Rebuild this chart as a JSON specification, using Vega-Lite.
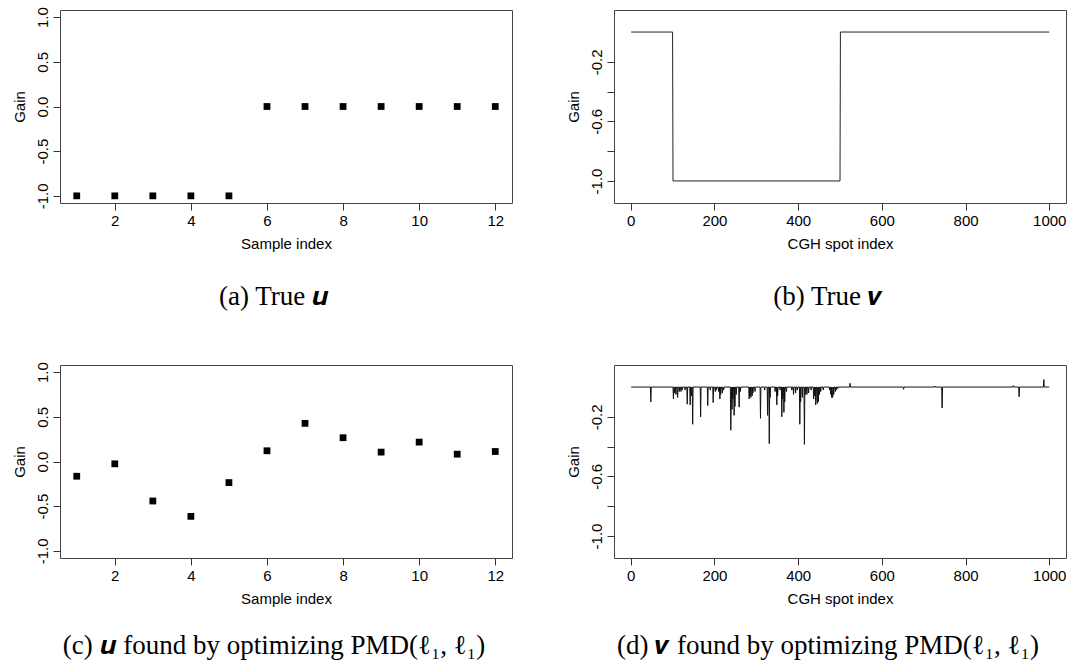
{
  "$schema": "https://vega.github.io/schema/vega-lite/v6.json",
  "padding": {"left": 11, "top": 6, "right": 0, "bottom": 0},
  "background": "white",
  "bounds": "flush",
  "columns": 2,
  "spacing": {"row": 162, "column": 102},
  "datasets": {
    "trueU": [
      {"i": 1, "v": -1}, {"i": 2, "v": -1}, {"i": 3, "v": -1}, {"i": 4, "v": -1}, {"i": 5, "v": -1},
      {"i": 6, "v": 0}, {"i": 7, "v": 0}, {"i": 8, "v": 0}, {"i": 9, "v": 0}, {"i": 10, "v": 0}, {"i": 11, "v": 0}, {"i": 12, "v": 0}
    ],
    "trueV": [
      {"i": 1, "v": 0}, {"i": 100, "v": 0}, {"i": 101, "v": -1}, {"i": 500, "v": -1}, {"i": 501, "v": 0}, {"i": 1000, "v": 0}
    ],
    "estU": [
      {"i": 1, "v": -0.165}, {"i": 2, "v": -0.026}, {"i": 3, "v": -0.442}, {"i": 4, "v": -0.614},
      {"i": 5, "v": -0.236}, {"i": 6, "v": 0.12}, {"i": 7, "v": 0.427}, {"i": 8, "v": 0.266},
      {"i": 9, "v": 0.105}, {"i": 10, "v": 0.217}, {"i": 11, "v": 0.082}, {"i": 12, "v": 0.112}
    ],
    "estV": [
      {"i":1,"v":0},
      {"i":47,"v":0},{"i":48,"v":-0.10},{"i":49,"v":0},
      {"i":101,"v":0},{"i":102,"v":-0.08},{"i":103,"v":0},
      {"i":104,"v":0},{"i":105,"v":-0.04},{"i":106,"v":0},
      {"i":107,"v":0},{"i":108,"v":-0.05},{"i":109,"v":0},
      {"i":111,"v":0},{"i":112,"v":-0.07},{"i":113,"v":0},
      {"i":115,"v":0},{"i":116,"v":-0.03},{"i":117,"v":0},
      {"i":119,"v":0},{"i":120,"v":-0.03},{"i":121,"v":0},
      {"i":122,"v":0},{"i":123,"v":-0.02},{"i":124,"v":0},
      {"i":129,"v":0},{"i":130,"v":-0.02},{"i":131,"v":0},
      {"i":134,"v":0},{"i":135,"v":-0.115},{"i":136,"v":0},
      {"i":141,"v":0},{"i":142,"v":-0.12},{"i":143,"v":0},
      {"i":144,"v":0},{"i":145,"v":-0.06},{"i":146,"v":0},
      {"i":147,"v":0},{"i":148,"v":-0.25},{"i":149,"v":0},
      {"i":166,"v":0},{"i":167,"v":-0.20},{"i":168,"v":0},
      {"i":183,"v":0},{"i":184,"v":-0.125},{"i":185,"v":0},
      {"i":189,"v":0},{"i":190,"v":-0.02},{"i":191,"v":0},
      {"i":196,"v":0},{"i":197,"v":-0.105},{"i":198,"v":0},
      {"i":201,"v":0},{"i":202,"v":-0.03},{"i":203,"v":0},
      {"i":204,"v":0},{"i":205,"v":-0.02},{"i":206,"v":0},
      {"i":209,"v":0},{"i":210,"v":-0.03},{"i":211,"v":0},
      {"i":212,"v":0},{"i":213,"v":-0.08},{"i":214,"v":0},{"i":215,"v":-0.05},{"i":216,"v":0},
      {"i":218,"v":0},{"i":219,"v":-0.04},{"i":220,"v":0},
      {"i":221,"v":0},{"i":222,"v":-0.02},{"i":223,"v":0},
      {"i":238,"v":0},{"i":239,"v":-0.29},{"i":240,"v":-0.12},{"i":241,"v":0},{"i":242,"v":-0.15},{"i":243,"v":0},{"i":244,"v":-0.08},{"i":245,"v":0},
      {"i":246,"v":0},{"i":247,"v":-0.19},{"i":248,"v":0},{"i":249,"v":-0.13},{"i":250,"v":0},
      {"i":251,"v":0},{"i":252,"v":-0.05},{"i":253,"v":0},
      {"i":258,"v":0},{"i":259,"v":-0.135},{"i":260,"v":0},
      {"i":261,"v":0},{"i":262,"v":-0.03},{"i":263,"v":0},
      {"i":282,"v":0},{"i":283,"v":-0.08},{"i":284,"v":0},{"i":285,"v":-0.06},{"i":286,"v":0},{"i":287,"v":-0.07},{"i":288,"v":0},
      {"i":289,"v":0},{"i":290,"v":-0.06},{"i":291,"v":0},{"i":292,"v":-0.04},{"i":293,"v":0},
      {"i":296,"v":0},{"i":297,"v":-0.03},{"i":298,"v":0},
      {"i":309,"v":0},{"i":310,"v":-0.21},{"i":311,"v":0},
      {"i":319,"v":0},{"i":320,"v":-0.02},{"i":321,"v":0},
      {"i":326,"v":0},{"i":327,"v":-0.19},{"i":328,"v":0},
      {"i":330,"v":0},{"i":331,"v":-0.38},{"i":332,"v":0},{"i":333,"v":-0.07},{"i":334,"v":0},
      {"i":344,"v":0},{"i":345,"v":-0.03},{"i":346,"v":0},
      {"i":348,"v":0},{"i":349,"v":-0.12},{"i":350,"v":0},{"i":351,"v":-0.06},{"i":352,"v":0},
      {"i":356,"v":0},{"i":357,"v":-0.02},{"i":358,"v":0},
      {"i":360,"v":0},{"i":361,"v":-0.20},{"i":362,"v":0},{"i":363,"v":-0.08},{"i":364,"v":0},
      {"i":365,"v":0},{"i":366,"v":-0.17},{"i":367,"v":0},{"i":368,"v":-0.10},{"i":369,"v":0},
      {"i":371,"v":0},{"i":372,"v":-0.03},{"i":373,"v":0},
      {"i":384,"v":0},{"i":385,"v":-0.02},{"i":386,"v":0},
      {"i":388,"v":0},{"i":389,"v":-0.05},{"i":390,"v":0},
      {"i":393,"v":0},{"i":394,"v":-0.04},{"i":395,"v":0},
      {"i":397,"v":0},{"i":398,"v":-0.02},{"i":399,"v":0},
      {"i":403,"v":0},{"i":404,"v":-0.25},{"i":405,"v":0},{"i":406,"v":-0.10},{"i":407,"v":0},
      {"i":409,"v":0},{"i":410,"v":-0.07},{"i":411,"v":0},
      {"i":414,"v":0},{"i":415,"v":-0.385},{"i":416,"v":0},{"i":417,"v":-0.05},{"i":418,"v":0},
      {"i":420,"v":0},{"i":421,"v":-0.05},{"i":422,"v":0},
      {"i":424,"v":0},{"i":425,"v":-0.04},{"i":426,"v":0},
      {"i":430,"v":0},{"i":431,"v":-0.02},{"i":432,"v":0},
      {"i":436,"v":0},{"i":437,"v":-0.08},{"i":438,"v":0},
      {"i":439,"v":0},{"i":440,"v":-0.06},{"i":441,"v":0},{"i":442,"v":-0.12},{"i":443,"v":0},
      {"i":444,"v":0},{"i":445,"v":-0.09},{"i":446,"v":-0.11},{"i":447,"v":0},{"i":448,"v":-0.10},{"i":449,"v":0},
      {"i":450,"v":0},{"i":451,"v":-0.05},{"i":452,"v":0},
      {"i":453,"v":0},{"i":454,"v":-0.03},{"i":455,"v":0},
      {"i":459,"v":0},{"i":460,"v":-0.02},{"i":461,"v":0},
      {"i":474,"v":0},{"i":475,"v":-0.02},{"i":476,"v":0},
      {"i":477,"v":0},{"i":478,"v":-0.05},{"i":479,"v":0},{"i":480,"v":-0.07},{"i":481,"v":0},{"i":482,"v":-0.07},{"i":483,"v":-0.06},{"i":484,"v":0},{"i":485,"v":-0.05},{"i":486,"v":0},
      {"i":488,"v":0},{"i":489,"v":-0.03},{"i":490,"v":0},{"i":491,"v":-0.02},{"i":492,"v":0},
      {"i":494,"v":0},{"i":495,"v":-0.01},{"i":496,"v":0},
      {"i":523,"v":0},{"i":524,"v":0.025},{"i":525,"v":0},
      {"i":651,"v":0},{"i":652,"v":-0.015},{"i":653,"v":0},
      {"i":726,"v":0},{"i":727,"v":0.007},{"i":728,"v":0},
      {"i":743,"v":0},{"i":744,"v":-0.14},{"i":745,"v":0},
      {"i":913,"v":0},{"i":914,"v":0.01},{"i":915,"v":0},
      {"i":927,"v":0},{"i":928,"v":-0.065},{"i":929,"v":0},
      {"i":986,"v":0},{"i":987,"v":0.05},{"i":988,"v":0},
      {"i":1000,"v":0}
    ]
  },
  "config": {
    "view": {"stroke": "#444", "strokeWidth": 1},
    "font": "Liberation Sans",
    "axis": {
      "domain": false, "grid": false, "ticks": true, "tickSize": 7, "tickColor": "#333", "tickWidth": 1,
      "labelFont": "Liberation Sans", "labelFontSize": 15, "labelColor": "#000", "labelPadding": 3,
      "labelFlush": false, "labelOverlap": false,
      "titleFont": "Liberation Sans", "titleFontSize": 15, "titleFontWeight": "normal", "titleColor": "#000"
    },
    "axisX": {"titlePadding": 8},
    "axisY": {"labelAngle": 270, "labelAlign": "center", "labelBaseline": "bottom", "titlePadding": 8},
    "title": {"orient": "bottom", "anchor": "middle", "font": "Liberation Serif", "fontSize": 27, "fontWeight": "normal", "color": "#000", "dx": -12, "offset": 34}
  },
  "concat": [
        {
          "width": 452, "height": 193,
          "title": {"text": "(a) True 𝒖", "offset": 33},
          "data": {"name": "trueU"},
          "mark": {"type": "point", "shape": "square", "filled": true, "color": "#000", "opacity": 1, "size": 46},
          "encoding": {
            "x": {"field": "i", "type": "quantitative", "scale": {"domain": [0.56, 12.44], "nice": false, "zero": false},
                  "axis": {"title": "Sample index", "values": [2, 4, 6, 8, 10, 12], "format": "d"}},
            "y": {"field": "v", "type": "quantitative", "scale": {"domain": [-1.08, 1.08], "nice": false, "zero": false},
                  "axis": {"title": "Gain", "values": [-1, -0.5, 0, 0.5, 1], "labelExpr": "(datum.value < 0 ? '-' : '') + format(abs(datum.value), '.1f')"}}
          }
        },
        {
          "width": 452, "height": 193,
          "title": {"text": "(b) True 𝒗", "offset": 33},
          "data": {"name": "trueV"},
          "mark": {"type": "line", "color": "#222", "strokeWidth": 1},
          "encoding": {
            "x": {"field": "i", "type": "quantitative", "scale": {"domain": [-40, 1040], "nice": false, "zero": false},
                  "axis": {"title": "CGH spot index", "values": [0, 200, 400, 600, 800, 1000], "format": "d"}},
            "y": {"field": "v", "type": "quantitative", "scale": {"domain": [-1.148, 0.148], "nice": false, "zero": false},
                  "axis": {"title": "Gain", "values": [-1, -0.8, -0.6, -0.4, -0.2], "labelExpr": "abs(round(datum.value*10)) % 4 == 2 ? '-' + format(abs(datum.value), '.1f') : ''"}}
          }
        },
        {
          "width": 452, "height": 193,
          "title": {"text": "(c) 𝒖 found by optimizing PMD(ℓ₁, ℓ₁)", "offset": 27},
          "data": {"name": "estU"},
          "mark": {"type": "point", "shape": "square", "filled": true, "color": "#000", "opacity": 1, "size": 46},
          "encoding": {
            "x": {"field": "i", "type": "quantitative", "scale": {"domain": [0.56, 12.44], "nice": false, "zero": false},
                  "axis": {"title": "Sample index", "values": [2, 4, 6, 8, 10, 12], "format": "d"}},
            "y": {"field": "v", "type": "quantitative", "scale": {"domain": [-1.08, 1.08], "nice": false, "zero": false},
                  "axis": {"title": "Gain", "values": [-1, -0.5, 0, 0.5, 1], "labelExpr": "(datum.value < 0 ? '-' : '') + format(abs(datum.value), '.1f')"}}
          }
        },
        {
          "width": 452, "height": 193,
          "title": {"text": "(d) 𝒗 found by optimizing PMD(ℓ₁, ℓ₁)", "offset": 27},
          "data": {"name": "estV"},
          "mark": {"type": "line", "color": "#111", "strokeWidth": 1},
          "encoding": {
            "x": {"field": "i", "type": "quantitative", "scale": {"domain": [-40, 1040], "nice": false, "zero": false},
                  "axis": {"title": "CGH spot index", "values": [0, 200, 400, 600, 800, 1000], "format": "d"}},
            "y": {"field": "v", "type": "quantitative", "scale": {"domain": [-1.148, 0.148], "nice": false, "zero": false},
                  "axis": {"title": "Gain", "values": [-1, -0.8, -0.6, -0.4, -0.2], "labelExpr": "abs(round(datum.value*10)) % 4 == 2 ? '-' + format(abs(datum.value), '.1f') : ''"}}
          }
        }
  ]
}
